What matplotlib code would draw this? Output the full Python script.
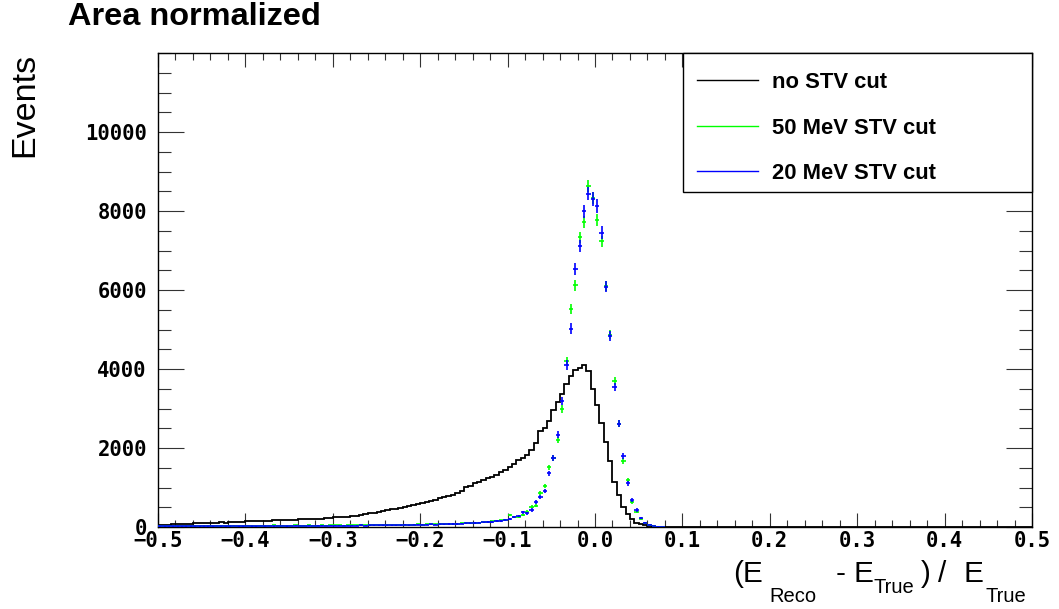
import numpy as np
import matplotlib
matplotlib.use("Agg")
import matplotlib.pyplot as plt
from matplotlib.lines import Line2D
from matplotlib.patches import Rectangle
from matplotlib.ticker import MultipleLocator, FixedLocator, FuncFormatter

# 200 bins from -0.5 to 0.5
bin_edges = np.linspace(-0.5, 0.5, 201)

# no STV cut (histogram), bins 0..114, rest empty
no_cut = [
    50, 60, 55, 70, 65, 75, 80, 70, 90, 95,
    100, 95, 105, 110, 115, 110, 120, 125, 130, 135,
    145, 140, 150, 155, 150, 160, 165, 170, 175, 170,
    180, 185, 190, 195, 200, 205, 210, 210, 220, 230,
    245, 250, 255, 260, 270, 285, 300, 320, 345, 360,
    390, 405, 430, 445, 465, 475, 500, 530, 560, 580,
    600, 625, 660, 690, 730, 760, 790, 820, 855, 900,
    1020, 1040, 1110, 1150, 1190, 1230, 1275, 1320, 1380, 1450,
    1530, 1600, 1700, 1750, 1830, 1950, 2130, 2420, 2510, 2690,
    2970, 3155, 3370, 3620, 3815, 3985, 4030, 4090, 3940, 3500,
    3100, 2630, 2140, 1675, 1150, 810, 515, 320, 195, 110,
    75, 40, 20, 10, 5,
]

# 50 MeV STV cut (points), bins 0..115
cut50 = [
    30, 25, 35, 20, 30, 25, 30, 20, 35, 25,
    30, 30, 25, 35, 30, 25, 30, 35, 25, 30,
    35, 30, 25, 30, 35, 30, 40, 30, 35, 30,
    35, 40, 30, 35, 40, 35, 30, 40, 35, 40,
    45, 40, 35, 45, 40, 45, 50, 40, 45, 50,
    45, 50, 55, 50, 45, 55, 60, 55, 60, 65,
    60, 65, 70, 65, 75, 70, 80, 85, 80, 90,
    95, 100, 105, 110, 120, 130, 140, 150, 165, 180,
    295, 260, 245, 300, 390, 515, 540, 855, 1040, 1515,
    1745, 2210, 2990, 4200, 5510, 6115, 7330, 7725, 8640, 8330,
    7775, 7230, 6100, 4870, 3690, 2620, 1675, 1190, 625, 390,
    195, 110, 50, 25, 10, 5,
]

# 20 MeV STV cut (points), bins 0..115
cut20 = [
    20, 15, 20, 15, 20, 15, 20, 20, 15, 20,
    20, 15, 20, 25, 20, 15, 20, 25, 20, 20,
    25, 20, 20, 25, 20, 25, 20, 25, 25, 20,
    25, 30, 25, 25, 30, 25, 30, 30, 25, 30,
    30, 35, 30, 35, 35, 30, 40, 35, 40, 40,
    45, 40, 45, 50, 45, 50, 55, 50, 55, 60,
    55, 60, 65, 60, 70, 65, 75, 80, 75, 85,
    90, 95, 100, 110, 115, 125, 135, 150, 160, 180,
    195, 260, 280, 370, 345, 430, 640, 770, 915, 1360,
    1745, 2335, 3195, 4100, 5020, 6520, 7115, 7995, 8440, 8300,
    8130, 7450, 6085, 4840, 3545, 2615, 1800, 1110, 685, 430,
    220, 110, 55, 25, 10, 5,
]

labels = ["no STV cut", "50 MeV STV cut", "20 MeV STV cut"]
colors = ["black", "#00ff00", "#0000ff"]


def full(vals):
    out = np.zeros(200)
    out[:len(vals)] = vals
    return out


h0 = full(no_cut)
h50 = full(cut50)
h20 = full(cut20)
centers = 0.5 * (bin_edges[:-1] + bin_edges[1:])
half_w = 0.5 * (bin_edges[1] - bin_edges[0])

W, H = 1059, 609
fig = plt.figure(figsize=(W / 100, H / 100), dpi=100)
ax = fig.add_axes([158 / W, 1 - 527 / H, 874 / W, 474 / H])

ax.stairs(h0, bin_edges, color="black", lw=1.3, zorder=2)

for vals, col, scale in [(h50, colors[1], 2.8), (h20, colors[2], 3.5)]:
    m = vals > 0
    ax.errorbar(centers[m], vals[m], yerr=np.sqrt(scale * vals[m]),
                xerr=half_w, fmt="none", ecolor=col, elinewidth=1.2,
                capsize=0, zorder=3)

ax.set_xlim(-0.5, 0.5)
ax.set_ylim(0, 12000)

tick_font = {"family": "DejaVu Sans Mono", "weight": "bold", "size": 14.8}
ax.xaxis.set_major_locator(MultipleLocator(0.1))
ax.xaxis.set_minor_locator(MultipleLocator(0.02))
ax.xaxis.set_major_formatter(FuncFormatter(lambda v, p: f"{v:.1f}".replace("-", "\u2212")))
ax.yaxis.set_major_locator(FixedLocator([0, 2000, 4000, 6000, 8000, 10000]))
ax.yaxis.set_minor_locator(MultipleLocator(500))
for lab in ax.get_xticklabels() + ax.get_yticklabels():
    lab.set_fontfamily(tick_font["family"])
    lab.set_fontweight(tick_font["weight"])
    lab.set_fontsize(tick_font["size"])

ax.tick_params(which="both", direction="in", top=True, right=True, color="#333333", width=0.8)
ax.tick_params(axis="x", which="major", length=10.2, pad=3)
ax.tick_params(axis="x", which="minor", length=5.1)
ax.tick_params(axis="y", which="major", length=18.8, pad=8)
ax.tick_params(axis="y", which="minor", length=9.4)
for s in ax.spines.values():
    s.set_linewidth(1.0)
    s.set_color("black")

# legend: entries without frame, frame drawn as a box like ROOT's TLegend
handles = [Line2D([], [], color=c, lw=1.0) for c in colors]
leg = fig.legend(handles, labels, loc="upper left",
                 bbox_to_anchor=(697 / W, 1 - 72 / H),
                 frameon=False, borderpad=0, labelspacing=1.12,
                 handlelength=2.77, handletextpad=0.64, borderaxespad=0,
                 prop={"family": "Liberation Sans", "weight": "bold", "size": 15.8})
fig.patches.append(Rectangle((683 / W, 1 - 192 / H), 349 / W, 139 / H,
                             transform=fig.transFigure, fill=True,
                             facecolor="white", edgecolor="black", lw=1.0, zorder=5))
leg.set_zorder(6)

# titles
fig.text(68 / W, 1 - 2 / H, "Area normalized", ha="left", va="top",
         family="Liberation Sans", weight="bold", size=23.4)
fig.text(25 / W, 1 - 53 / H, "Events", ha="center", va="top", rotation=90,
         family="Liberation Sans", size=24.5)

# x-axis title, ROOT style subscripts
big, small = 21.4, 14.5
pieces = [
    ("(E", 733, 582, big),
    ("Reco", 769, 602, small),
    ("-", 836, 582, big),
    ("E", 853, 582, big),
    ("True", 874, 593, small),
    (")", 921, 582, big),
    ("/", 938, 582, big),
    ("E", 963, 582, big),
    ("True", 985, 602, small),
]
for txt, px, py, sz in pieces:
    fig.text(px / W, 1 - py / H, txt, ha="left", va="baseline",
             family="Liberation Sans", size=sz)

fig.savefig("out.png", dpi=100)
